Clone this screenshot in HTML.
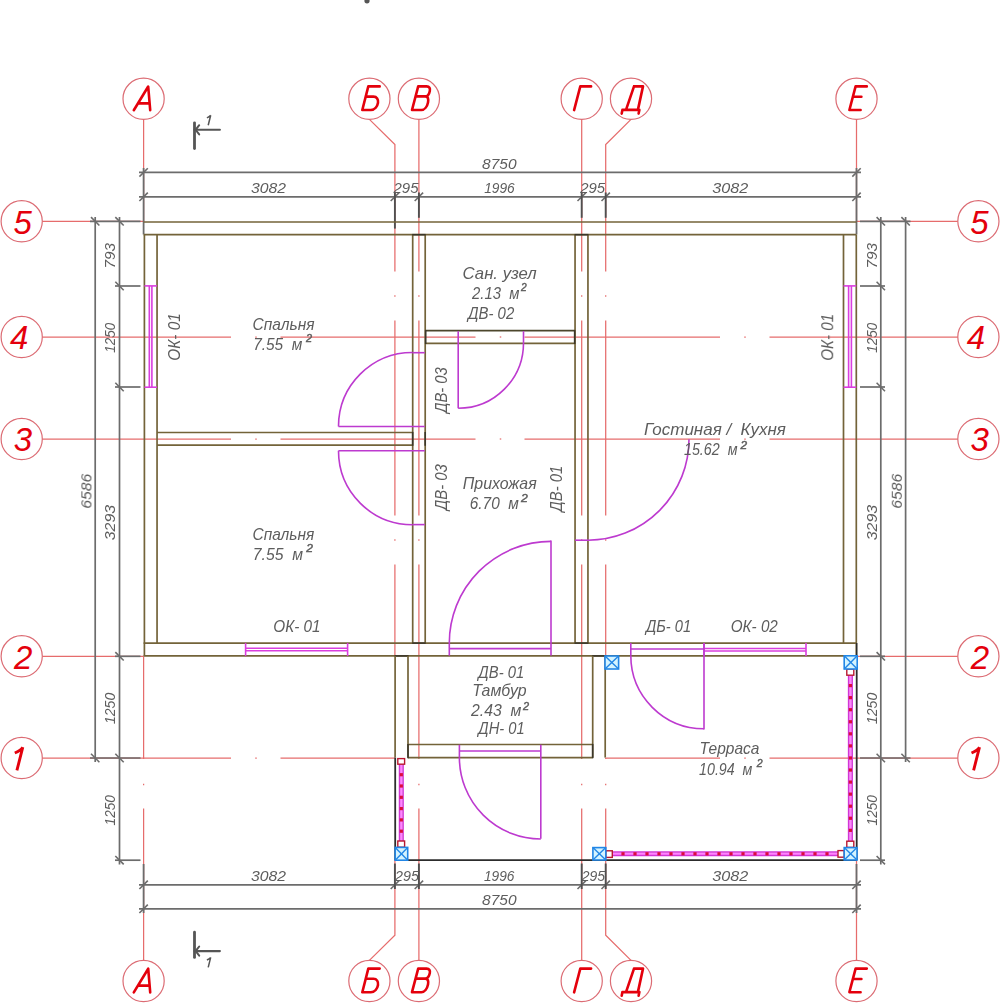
<!DOCTYPE html>
<html><head><meta charset="utf-8"><style>
html,body{margin:0;padding:0;background:#fff;overflow:hidden;}
svg{display:block;font-family:"Liberation Sans",sans-serif;}
</style></head><body>
<svg width="1000" height="1003" viewBox="0 0 1000 1003">
<rect width="1000" height="1003" fill="#fff"/>
<line x1="42" y1="221.3" x2="143.6" y2="221.3" stroke="#e66c6c" stroke-width="1.25" />
<line x1="856.5" y1="221.3" x2="958" y2="221.3" stroke="#e66c6c" stroke-width="1.25" />
<line x1="42" y1="337.0" x2="231" y2="337.0" stroke="#e66c6c" stroke-width="1.25" />
<line x1="280.5" y1="337.0" x2="475.5" y2="337.0" stroke="#e66c6c" stroke-width="1.25" />
<line x1="524.5" y1="337.0" x2="720" y2="337.0" stroke="#e66c6c" stroke-width="1.25" />
<line x1="769.5" y1="337.0" x2="958" y2="337.0" stroke="#e66c6c" stroke-width="1.25" />
<line x1="255.25" y1="337.0" x2="256.75" y2="337.0" stroke="#e66c6c" stroke-width="1.25" />
<line x1="499.75" y1="337.0" x2="501.25" y2="337.0" stroke="#e66c6c" stroke-width="1.25" />
<line x1="744.25" y1="337.0" x2="745.75" y2="337.0" stroke="#e66c6c" stroke-width="1.25" />
<line x1="42" y1="439.0" x2="231" y2="439.0" stroke="#e66c6c" stroke-width="1.25" />
<line x1="280.5" y1="439.0" x2="475.5" y2="439.0" stroke="#e66c6c" stroke-width="1.25" />
<line x1="524.5" y1="439.0" x2="720" y2="439.0" stroke="#e66c6c" stroke-width="1.25" />
<line x1="769.5" y1="439.0" x2="958" y2="439.0" stroke="#e66c6c" stroke-width="1.25" />
<line x1="255.25" y1="439.0" x2="256.75" y2="439.0" stroke="#e66c6c" stroke-width="1.25" />
<line x1="499.75" y1="439.0" x2="501.25" y2="439.0" stroke="#e66c6c" stroke-width="1.25" />
<line x1="744.25" y1="439.0" x2="745.75" y2="439.0" stroke="#e66c6c" stroke-width="1.25" />
<line x1="42" y1="656.3" x2="143.6" y2="656.3" stroke="#e66c6c" stroke-width="1.25" />
<line x1="856.5" y1="656.3" x2="958" y2="656.3" stroke="#e66c6c" stroke-width="1.25" />
<line x1="42" y1="758.0" x2="231" y2="758.0" stroke="#e66c6c" stroke-width="1.25" />
<line x1="280.5" y1="758.0" x2="395" y2="758.0" stroke="#e66c6c" stroke-width="1.25" />
<line x1="605.7" y1="758.0" x2="720" y2="758.0" stroke="#e66c6c" stroke-width="1.25" />
<line x1="769.5" y1="758.0" x2="958" y2="758.0" stroke="#e66c6c" stroke-width="1.25" />
<line x1="255.25" y1="758.0" x2="256.75" y2="758.0" stroke="#e66c6c" stroke-width="1.25" />
<line x1="744.25" y1="758.0" x2="745.75" y2="758.0" stroke="#e66c6c" stroke-width="1.25" />
<line x1="143.6" y1="119.2" x2="143.6" y2="221.3" stroke="#e66c6c" stroke-width="1.25" />
<line x1="143.6" y1="656.3" x2="143.6" y2="759" stroke="#e66c6c" stroke-width="1.25" />
<line x1="143.6" y1="808.5" x2="143.6" y2="960.4" stroke="#e66c6c" stroke-width="1.25" />
<line x1="143.6" y1="783.75" x2="143.6" y2="785.25" stroke="#e66c6c" stroke-width="1.25" />
<line x1="418.9" y1="119.2" x2="418.9" y2="271.5" stroke="#e66c6c" stroke-width="1.25" />
<line x1="418.9" y1="320.5" x2="418.9" y2="515.5" stroke="#e66c6c" stroke-width="1.25" />
<line x1="418.9" y1="564.5" x2="418.9" y2="759" stroke="#e66c6c" stroke-width="1.25" />
<line x1="418.9" y1="808.5" x2="418.9" y2="960.4" stroke="#e66c6c" stroke-width="1.25" />
<line x1="418.9" y1="295.25" x2="418.9" y2="296.75" stroke="#e66c6c" stroke-width="1.25" />
<line x1="418.9" y1="539.25" x2="418.9" y2="540.75" stroke="#e66c6c" stroke-width="1.25" />
<line x1="418.9" y1="783.75" x2="418.9" y2="785.25" stroke="#e66c6c" stroke-width="1.25" />
<line x1="581.7" y1="119.2" x2="581.7" y2="271.5" stroke="#e66c6c" stroke-width="1.25" />
<line x1="581.7" y1="320.5" x2="581.7" y2="515.5" stroke="#e66c6c" stroke-width="1.25" />
<line x1="581.7" y1="564.5" x2="581.7" y2="759" stroke="#e66c6c" stroke-width="1.25" />
<line x1="581.7" y1="808.5" x2="581.7" y2="960.4" stroke="#e66c6c" stroke-width="1.25" />
<line x1="581.7" y1="295.25" x2="581.7" y2="296.75" stroke="#e66c6c" stroke-width="1.25" />
<line x1="581.7" y1="539.25" x2="581.7" y2="540.75" stroke="#e66c6c" stroke-width="1.25" />
<line x1="581.7" y1="783.75" x2="581.7" y2="785.25" stroke="#e66c6c" stroke-width="1.25" />
<line x1="856.5" y1="119.2" x2="856.5" y2="221.3" stroke="#e66c6c" stroke-width="1.25" />
<line x1="856.5" y1="860.3" x2="856.5" y2="960.4" stroke="#e66c6c" stroke-width="1.25" />
<path d="M369.4,119.4 L394.9,144.5 L394.9,271.5" stroke="#e66c6c" stroke-width="1.25" fill="none" />
<line x1="394.9" y1="320.5" x2="394.9" y2="515.5" stroke="#e66c6c" stroke-width="1.25" />
<line x1="394.9" y1="564.5" x2="394.9" y2="655.6" stroke="#e66c6c" stroke-width="1.25" />
<line x1="394.9" y1="295.25" x2="394.9" y2="296.75" stroke="#e66c6c" stroke-width="1.25" />
<line x1="394.9" y1="539.25" x2="394.9" y2="540.75" stroke="#e66c6c" stroke-width="1.25" />
<path d="M394.9,860.3 L394.9,935.2 L369.4,960.4" stroke="#e66c6c" stroke-width="1.25" fill="none" />
<path d="M631.0,119.4 L605.7,144.5 L605.7,271.5" stroke="#e66c6c" stroke-width="1.25" fill="none" />
<line x1="605.7" y1="320.5" x2="605.7" y2="515.5" stroke="#e66c6c" stroke-width="1.25" />
<line x1="605.7" y1="564.5" x2="605.7" y2="655.6" stroke="#e66c6c" stroke-width="1.25" />
<line x1="605.7" y1="758" x2="605.7" y2="759" stroke="#e66c6c" stroke-width="1.25" />
<line x1="605.7" y1="295.25" x2="605.7" y2="296.75" stroke="#e66c6c" stroke-width="1.25" />
<line x1="605.7" y1="539.25" x2="605.7" y2="540.75" stroke="#e66c6c" stroke-width="1.25" />
<line x1="605.7" y1="783.75" x2="605.7" y2="785.25" stroke="#e66c6c" stroke-width="1.25" />
<path d="M605.7,808.5 L605.7,935.2 L631.0,960.4" stroke="#e66c6c" stroke-width="1.25" fill="none" />
<circle cx="143.6" cy="98.8" r="20.6" fill="#fff" stroke="#dc6c74" stroke-width="1.2"/>
<path d="M-9.8,11.4 L4.6,-12.3 L6.6,11.4 M-5.4,4.6 L5.9,4.6" transform="translate(143.6,98.8)" fill="none" stroke="#e4000c" stroke-width="2.6" stroke-linecap="round" stroke-linejoin="round"/>
<circle cx="143.6" cy="981.0" r="20.6" fill="#fff" stroke="#dc6c74" stroke-width="1.2"/>
<path d="M-9.8,11.4 L4.6,-12.3 L6.6,11.4 M-5.4,4.6 L5.9,4.6" transform="translate(143.6,981.0)" fill="none" stroke="#e4000c" stroke-width="2.6" stroke-linecap="round" stroke-linejoin="round"/>
<circle cx="369.4" cy="98.8" r="20.6" fill="#fff" stroke="#dc6c74" stroke-width="1.2"/>
<path d="M10.3,-12.4 L-1.1,-12.4 L-7.1,11.2 L1.5,11.2 C5.5,11.2 8.0,7.6 8.6,4.0 C9.1,0.6 7.4,-2.2 4.1,-2.2 L-3.5,-2.2" transform="translate(369.4,98.8)" fill="none" stroke="#e4000c" stroke-width="2.6" stroke-linecap="round" stroke-linejoin="round"/>
<circle cx="369.4" cy="981.0" r="20.6" fill="#fff" stroke="#dc6c74" stroke-width="1.2"/>
<path d="M10.3,-12.4 L-1.1,-12.4 L-7.1,11.2 L1.5,11.2 C5.5,11.2 8.0,7.6 8.6,4.0 C9.1,0.6 7.4,-2.2 4.1,-2.2 L-3.5,-2.2" transform="translate(369.4,981.0)" fill="none" stroke="#e4000c" stroke-width="2.6" stroke-linecap="round" stroke-linejoin="round"/>
<circle cx="418.9" cy="98.8" r="20.6" fill="#fff" stroke="#dc6c74" stroke-width="1.2"/>
<path d="M2.5,11.2 L-6.9,11.2 L-0.7,-12.4 L7.7,-12.4 C10.6,-12.4 11.4,-10.2 10.9,-7.9 C10.3,-4.8 8.6,-2.4 6.3,-2.4 L-3.2,-2.4 M6.3,-2.4 C9.3,-2.4 9.7,0.6 9.1,3.6 C8.3,7.8 5.6,11.2 2.5,11.2" transform="translate(418.9,98.8)" fill="none" stroke="#e4000c" stroke-width="2.6" stroke-linecap="round" stroke-linejoin="round"/>
<circle cx="418.9" cy="981.0" r="20.6" fill="#fff" stroke="#dc6c74" stroke-width="1.2"/>
<path d="M2.5,11.2 L-6.9,11.2 L-0.7,-12.4 L7.7,-12.4 C10.6,-12.4 11.4,-10.2 10.9,-7.9 C10.3,-4.8 8.6,-2.4 6.3,-2.4 L-3.2,-2.4 M6.3,-2.4 C9.3,-2.4 9.7,0.6 9.1,3.6 C8.3,7.8 5.6,11.2 2.5,11.2" transform="translate(418.9,981.0)" fill="none" stroke="#e4000c" stroke-width="2.6" stroke-linecap="round" stroke-linejoin="round"/>
<circle cx="581.7" cy="98.8" r="20.6" fill="#fff" stroke="#dc6c74" stroke-width="1.2"/>
<path d="M-7.6,11.3 L-1.4,-12.4 L9.4,-12.4" transform="translate(581.7,98.8)" fill="none" stroke="#e4000c" stroke-width="2.6" stroke-linecap="round" stroke-linejoin="round"/>
<circle cx="581.7" cy="981.0" r="20.6" fill="#fff" stroke="#dc6c74" stroke-width="1.2"/>
<path d="M-7.6,11.3 L-1.4,-12.4 L9.4,-12.4" transform="translate(581.7,981.0)" fill="none" stroke="#e4000c" stroke-width="2.6" stroke-linecap="round" stroke-linejoin="round"/>
<circle cx="631.0" cy="98.8" r="20.6" fill="#fff" stroke="#dc6c74" stroke-width="1.2"/>
<path d="M3.0,-12.4 L12.0,-12.4 L6.9,11.1 M3.0,-12.4 L-5.0,11.1 M-8.6,11.1 L8.4,11.1 M-8.6,11.1 L-9.3,14.8 M8.4,11.1 L7.6,14.8" transform="translate(631.0,98.8)" fill="none" stroke="#e4000c" stroke-width="2.6" stroke-linecap="round" stroke-linejoin="round"/>
<circle cx="631.0" cy="981.0" r="20.6" fill="#fff" stroke="#dc6c74" stroke-width="1.2"/>
<path d="M3.0,-12.4 L12.0,-12.4 L6.9,11.1 M3.0,-12.4 L-5.0,11.1 M-8.6,11.1 L8.4,11.1 M-8.6,11.1 L-9.3,14.8 M8.4,11.1 L7.6,14.8" transform="translate(631.0,981.0)" fill="none" stroke="#e4000c" stroke-width="2.6" stroke-linecap="round" stroke-linejoin="round"/>
<circle cx="856.5" cy="98.8" r="20.6" fill="#fff" stroke="#dc6c74" stroke-width="1.2"/>
<path d="M10.3,-12.4 L-0.9,-12.4 L-7.1,11.2 L4.1,11.2 M-3.5,-2.0 L4.9,-2.0" transform="translate(856.5,98.8)" fill="none" stroke="#e4000c" stroke-width="2.6" stroke-linecap="round" stroke-linejoin="round"/>
<circle cx="856.5" cy="981.0" r="20.6" fill="#fff" stroke="#dc6c74" stroke-width="1.2"/>
<path d="M10.3,-12.4 L-0.9,-12.4 L-7.1,11.2 L4.1,11.2 M-3.5,-2.0 L4.9,-2.0" transform="translate(856.5,981.0)" fill="none" stroke="#e4000c" stroke-width="2.6" stroke-linecap="round" stroke-linejoin="round"/>
<circle cx="21.7" cy="221.3" r="20.6" fill="#fff" stroke="#dc6c74" stroke-width="1.2"/>
<text x="22.7" y="233.60000000000002" text-anchor="middle" font-size="33" font-style="italic" fill="#e4000c">5</text>
<circle cx="978.4" cy="221.3" r="20.6" fill="#fff" stroke="#dc6c74" stroke-width="1.2"/>
<text x="979.4" y="233.60000000000002" text-anchor="middle" font-size="33" font-style="italic" fill="#e4000c">5</text>
<circle cx="21.7" cy="337.0" r="20.6" fill="#fff" stroke="#dc6c74" stroke-width="1.2"/>
<text x="19.2" y="349.3" text-anchor="middle" font-size="33" font-style="italic" fill="#e4000c">4</text>
<circle cx="978.4" cy="337.0" r="20.6" fill="#fff" stroke="#dc6c74" stroke-width="1.2"/>
<text x="975.9" y="349.3" text-anchor="middle" font-size="33" font-style="italic" fill="#e4000c">4</text>
<circle cx="21.7" cy="439.0" r="20.6" fill="#fff" stroke="#dc6c74" stroke-width="1.2"/>
<text x="23.0" y="451.3" text-anchor="middle" font-size="33" font-style="italic" fill="#e4000c">3</text>
<circle cx="978.4" cy="439.0" r="20.6" fill="#fff" stroke="#dc6c74" stroke-width="1.2"/>
<text x="979.6999999999999" y="451.3" text-anchor="middle" font-size="33" font-style="italic" fill="#e4000c">3</text>
<circle cx="21.7" cy="656.3" r="20.6" fill="#fff" stroke="#dc6c74" stroke-width="1.2"/>
<text x="23.3" y="668.5999999999999" text-anchor="middle" font-size="33" font-style="italic" fill="#e4000c">2</text>
<circle cx="978.4" cy="656.3" r="20.6" fill="#fff" stroke="#dc6c74" stroke-width="1.2"/>
<text x="980.0" y="668.5999999999999" text-anchor="middle" font-size="33" font-style="italic" fill="#e4000c">2</text>
<circle cx="21.7" cy="758.0" r="20.6" fill="#fff" stroke="#dc6c74" stroke-width="1.2"/>
<path d="M-4.8,12.4 L1.1,-10.8 M-6.9,-5.0 C-3.6,-6.4 -0.6,-8.2 1.1,-10.8" transform="translate(21.7,758.0)" fill="none" stroke="#e4000c" stroke-width="2.9" stroke-linecap="butt" stroke-linejoin="round"/>
<circle cx="978.4" cy="758.0" r="20.6" fill="#fff" stroke="#dc6c74" stroke-width="1.2"/>
<path d="M-4.8,12.4 L1.1,-10.8 M-6.9,-5.0 C-3.6,-6.4 -0.6,-8.2 1.1,-10.8" transform="translate(978.4,758.0)" fill="none" stroke="#e4000c" stroke-width="2.9" stroke-linecap="butt" stroke-linejoin="round"/>
<line x1="139" y1="172.4" x2="861" y2="172.4" stroke="#6c6c6c" stroke-width="1.7" />
<line x1="139" y1="196.8" x2="861" y2="196.8" stroke="#6c6c6c" stroke-width="1.7" />
<line x1="139.4" y1="176.6" x2="147.79999999999998" y2="168.20000000000002" stroke="#6c6c6c" stroke-width="1.6" />
<line x1="852.3" y1="176.6" x2="860.7" y2="168.20000000000002" stroke="#6c6c6c" stroke-width="1.6" />
<line x1="139.4" y1="201.0" x2="147.79999999999998" y2="192.60000000000002" stroke="#6c6c6c" stroke-width="1.6" />
<line x1="390.7" y1="201.0" x2="399.09999999999997" y2="192.60000000000002" stroke="#6c6c6c" stroke-width="1.6" />
<line x1="414.7" y1="201.0" x2="423.09999999999997" y2="192.60000000000002" stroke="#6c6c6c" stroke-width="1.6" />
<line x1="577.5" y1="201.0" x2="585.9000000000001" y2="192.60000000000002" stroke="#6c6c6c" stroke-width="1.6" />
<line x1="601.5" y1="201.0" x2="609.9000000000001" y2="192.60000000000002" stroke="#6c6c6c" stroke-width="1.6" />
<line x1="852.3" y1="201.0" x2="860.7" y2="192.60000000000002" stroke="#6c6c6c" stroke-width="1.6" />
<line x1="143.6" y1="168" x2="143.6" y2="234.5" stroke="#6c6c6c" stroke-width="1.8" />
<line x1="856.5" y1="168" x2="856.5" y2="234.5" stroke="#6c6c6c" stroke-width="1.8" />
<line x1="394.9" y1="192.5" x2="394.9" y2="228.6" stroke="#505050" stroke-width="1.9" />
<line x1="418.9" y1="192.5" x2="418.9" y2="217.8" stroke="#505050" stroke-width="1.9" />
<line x1="581.7" y1="192.5" x2="581.7" y2="217.8" stroke="#505050" stroke-width="1.9" />
<line x1="605.7" y1="192.5" x2="605.7" y2="217.8" stroke="#505050" stroke-width="1.9" />
<line x1="139" y1="884.8" x2="861" y2="884.8" stroke="#6c6c6c" stroke-width="1.7" />
<line x1="139" y1="908.8" x2="861" y2="908.8" stroke="#6c6c6c" stroke-width="1.7" />
<line x1="139.4" y1="913.0" x2="147.79999999999998" y2="904.5999999999999" stroke="#6c6c6c" stroke-width="1.6" />
<line x1="852.3" y1="913.0" x2="860.7" y2="904.5999999999999" stroke="#6c6c6c" stroke-width="1.6" />
<line x1="139.4" y1="889.0" x2="147.79999999999998" y2="880.5999999999999" stroke="#6c6c6c" stroke-width="1.6" />
<line x1="390.7" y1="889.0" x2="399.09999999999997" y2="880.5999999999999" stroke="#6c6c6c" stroke-width="1.6" />
<line x1="414.7" y1="889.0" x2="423.09999999999997" y2="880.5999999999999" stroke="#6c6c6c" stroke-width="1.6" />
<line x1="577.5" y1="889.0" x2="585.9000000000001" y2="880.5999999999999" stroke="#6c6c6c" stroke-width="1.6" />
<line x1="601.5" y1="889.0" x2="609.9000000000001" y2="880.5999999999999" stroke="#6c6c6c" stroke-width="1.6" />
<line x1="852.3" y1="889.0" x2="860.7" y2="880.5999999999999" stroke="#6c6c6c" stroke-width="1.6" />
<line x1="143.6" y1="864" x2="143.6" y2="913" stroke="#6c6c6c" stroke-width="1.8" />
<line x1="856.5" y1="864" x2="856.5" y2="913" stroke="#6c6c6c" stroke-width="1.8" />
<line x1="394.9" y1="863.5" x2="394.9" y2="889" stroke="#505050" stroke-width="1.9" />
<line x1="418.9" y1="863.5" x2="418.9" y2="889" stroke="#505050" stroke-width="1.9" />
<line x1="581.7" y1="863.5" x2="581.7" y2="889" stroke="#505050" stroke-width="1.9" />
<line x1="605.7" y1="863.5" x2="605.7" y2="889" stroke="#505050" stroke-width="1.9" />
<line x1="95.2" y1="217" x2="95.2" y2="762" stroke="#6c6c6c" stroke-width="1.7" />
<line x1="119.5" y1="217" x2="119.5" y2="864.5" stroke="#6c6c6c" stroke-width="1.7" />
<line x1="91.0" y1="217.10000000000002" x2="99.4" y2="225.5" stroke="#6c6c6c" stroke-width="1.6" />
<line x1="91.0" y1="753.8" x2="99.4" y2="762.2" stroke="#6c6c6c" stroke-width="1.6" />
<line x1="115.3" y1="217.10000000000002" x2="123.7" y2="225.5" stroke="#6c6c6c" stroke-width="1.6" />
<line x1="115.3" y1="281.8" x2="123.7" y2="290.2" stroke="#6c6c6c" stroke-width="1.6" />
<line x1="115.3" y1="382.8" x2="123.7" y2="391.2" stroke="#6c6c6c" stroke-width="1.6" />
<line x1="115.3" y1="652.0999999999999" x2="123.7" y2="660.5" stroke="#6c6c6c" stroke-width="1.6" />
<line x1="115.3" y1="753.8" x2="123.7" y2="762.2" stroke="#6c6c6c" stroke-width="1.6" />
<line x1="115.3" y1="856.0" x2="123.7" y2="864.4000000000001" stroke="#6c6c6c" stroke-width="1.6" />
<line x1="90" y1="221.3" x2="140.5" y2="221.3" stroke="#6c6c6c" stroke-width="1.7" />
<line x1="90" y1="758.0" x2="140.5" y2="758.0" stroke="#6c6c6c" stroke-width="1.7" />
<line x1="115" y1="286" x2="140.5" y2="286" stroke="#6c6c6c" stroke-width="1.7" />
<line x1="115" y1="387" x2="140.5" y2="387" stroke="#6c6c6c" stroke-width="1.7" />
<line x1="115" y1="656.3" x2="140.5" y2="656.3" stroke="#6c6c6c" stroke-width="1.7" />
<line x1="115" y1="860.2" x2="140.5" y2="860.2" stroke="#6c6c6c" stroke-width="1.7" />
<line x1="905.6" y1="217" x2="905.6" y2="762" stroke="#6c6c6c" stroke-width="1.7" />
<line x1="880.8" y1="217" x2="880.8" y2="864.5" stroke="#6c6c6c" stroke-width="1.7" />
<line x1="901.4" y1="217.10000000000002" x2="909.8000000000001" y2="225.5" stroke="#6c6c6c" stroke-width="1.6" />
<line x1="901.4" y1="753.8" x2="909.8000000000001" y2="762.2" stroke="#6c6c6c" stroke-width="1.6" />
<line x1="876.5999999999999" y1="217.10000000000002" x2="885.0" y2="225.5" stroke="#6c6c6c" stroke-width="1.6" />
<line x1="876.5999999999999" y1="281.8" x2="885.0" y2="290.2" stroke="#6c6c6c" stroke-width="1.6" />
<line x1="876.5999999999999" y1="382.8" x2="885.0" y2="391.2" stroke="#6c6c6c" stroke-width="1.6" />
<line x1="876.5999999999999" y1="652.0999999999999" x2="885.0" y2="660.5" stroke="#6c6c6c" stroke-width="1.6" />
<line x1="876.5999999999999" y1="753.8" x2="885.0" y2="762.2" stroke="#6c6c6c" stroke-width="1.6" />
<line x1="876.5999999999999" y1="856.0" x2="885.0" y2="864.4000000000001" stroke="#6c6c6c" stroke-width="1.6" />
<line x1="860" y1="221.3" x2="910.5" y2="221.3" stroke="#6c6c6c" stroke-width="1.7" />
<line x1="860" y1="758.0" x2="910.5" y2="758.0" stroke="#6c6c6c" stroke-width="1.7" />
<line x1="860" y1="286" x2="885" y2="286" stroke="#6c6c6c" stroke-width="1.7" />
<line x1="860" y1="387" x2="885" y2="387" stroke="#6c6c6c" stroke-width="1.7" />
<line x1="860" y1="656.3" x2="885" y2="656.3" stroke="#6c6c6c" stroke-width="1.7" />
<line x1="860" y1="860.2" x2="885" y2="860.2" stroke="#6c6c6c" stroke-width="1.7" />
<line x1="143.6" y1="222.0" x2="856.5" y2="222.0" stroke="#736339" stroke-width="1.7" />
<line x1="143.6" y1="234.7" x2="856.5" y2="234.7" stroke="#736339" stroke-width="1.7" />
<line x1="144.4" y1="234.7" x2="144.4" y2="655.9" stroke="#736339" stroke-width="1.7" />
<line x1="157.05" y1="234.7" x2="157.05" y2="643.1" stroke="#736339" stroke-width="1.7" />
<line x1="856.3" y1="234.7" x2="856.3" y2="655.9" stroke="#736339" stroke-width="1.7" />
<line x1="843.5" y1="234.7" x2="843.5" y2="643.1" stroke="#736339" stroke-width="1.7" />
<line x1="143.6" y1="643.1" x2="856.5" y2="643.1" stroke="#736339" stroke-width="1.7" />
<line x1="143.6" y1="655.9" x2="856.5" y2="655.9" stroke="#736339" stroke-width="1.7" />
<line x1="412.7" y1="234.7" x2="412.7" y2="643.1" stroke="#736339" stroke-width="1.7" />
<line x1="425.2" y1="234.7" x2="425.2" y2="643.1" stroke="#736339" stroke-width="1.7" />
<line x1="575.05" y1="234.7" x2="575.05" y2="643.1" stroke="#736339" stroke-width="1.7" />
<line x1="587.95" y1="234.7" x2="587.95" y2="643.1" stroke="#736339" stroke-width="1.7" />
<line x1="412.2" y1="234.7" x2="425.7" y2="234.7" stroke="#3b372a" stroke-width="1.6" />
<line x1="412.2" y1="643.1" x2="425.7" y2="643.1" stroke="#3b372a" stroke-width="1.6" />
<line x1="574.55" y1="234.7" x2="588.45" y2="234.7" stroke="#3b372a" stroke-width="1.6" />
<line x1="574.55" y1="643.1" x2="588.45" y2="643.1" stroke="#3b372a" stroke-width="1.6" />
<line x1="394.6" y1="655.9" x2="408.5" y2="655.9" stroke="#3b372a" stroke-width="1.6" />
<line x1="592.2" y1="655.9" x2="605.7" y2="655.9" stroke="#3b372a" stroke-width="1.6" />
<line x1="157.05" y1="432.5" x2="412.7" y2="432.5" stroke="#736339" stroke-width="1.7" />
<line x1="157.05" y1="445.2" x2="412.7" y2="445.2" stroke="#736339" stroke-width="1.7" />
<line x1="412.7" y1="431.9" x2="412.7" y2="445.8" stroke="#3b372a" stroke-width="1.6" />
<line x1="425.2" y1="431.9" x2="425.2" y2="445.8" stroke="#3b372a" stroke-width="1.6" />
<line x1="425.2" y1="330.7" x2="575.05" y2="330.7" stroke="#4d472c" stroke-width="1.7" />
<line x1="425.2" y1="343.45" x2="575.05" y2="343.45" stroke="#736339" stroke-width="1.7" />
<line x1="425.7" y1="330.09999999999997" x2="425.7" y2="344.05" stroke="#3b372a" stroke-width="1.6" />
<line x1="574.65" y1="330.09999999999997" x2="574.65" y2="344.05" stroke="#3b372a" stroke-width="1.6" />
<line x1="395.1" y1="655.9" x2="395.1" y2="757.6" stroke="#736339" stroke-width="1.7" />
<line x1="408.0" y1="655.9" x2="408.0" y2="757.6" stroke="#736339" stroke-width="1.7" />
<line x1="592.7" y1="655.9" x2="592.7" y2="757.6" stroke="#736339" stroke-width="1.7" />
<line x1="605.2" y1="655.9" x2="605.2" y2="757.6" stroke="#736339" stroke-width="1.7" />
<line x1="408.0" y1="744.5" x2="592.7" y2="744.5" stroke="#736339" stroke-width="1.7" />
<line x1="408.0" y1="757.6" x2="592.7" y2="757.6" stroke="#736339" stroke-width="1.7" />
<line x1="408.0" y1="743.9" x2="408.0" y2="758.2" stroke="#3b372a" stroke-width="1.6" />
<line x1="592.7" y1="743.9" x2="592.7" y2="758.2" stroke="#3b372a" stroke-width="1.6" />
<line x1="144.4" y1="285.9" x2="157.05" y2="285.9" stroke="#da3ede" stroke-width="1.6" />
<line x1="144.4" y1="387.2" x2="157.05" y2="387.2" stroke="#da3ede" stroke-width="1.6" />
<line x1="149.3" y1="285.9" x2="149.3" y2="387.2" stroke="#da3ede" stroke-width="1.6" />
<line x1="151.9" y1="285.9" x2="151.9" y2="387.2" stroke="#da3ede" stroke-width="1.6" />
<line x1="843.5" y1="285.9" x2="856.3" y2="285.9" stroke="#da3ede" stroke-width="1.6" />
<line x1="843.5" y1="387.2" x2="856.3" y2="387.2" stroke="#da3ede" stroke-width="1.6" />
<line x1="848.6" y1="285.9" x2="848.6" y2="387.2" stroke="#da3ede" stroke-width="1.6" />
<line x1="851.4" y1="285.9" x2="851.4" y2="387.2" stroke="#da3ede" stroke-width="1.6" />
<line x1="245.6" y1="643.1" x2="245.6" y2="655.9" stroke="#da3ede" stroke-width="1.6" />
<line x1="347.6" y1="643.1" x2="347.6" y2="655.9" stroke="#da3ede" stroke-width="1.6" />
<line x1="245.6" y1="648.3" x2="347.6" y2="648.3" stroke="#da3ede" stroke-width="1.6" />
<line x1="245.6" y1="650.8" x2="347.6" y2="650.8" stroke="#da3ede" stroke-width="1.6" />
<line x1="704" y1="643.1" x2="704" y2="655.9" stroke="#da3ede" stroke-width="1.6" />
<line x1="806" y1="643.1" x2="806" y2="655.9" stroke="#da3ede" stroke-width="1.6" />
<line x1="704" y1="648.5" x2="806" y2="648.5" stroke="#da3ede" stroke-width="1.6" />
<line x1="704" y1="651.0" x2="806" y2="651.0" stroke="#da3ede" stroke-width="1.6" />
<line x1="458.2" y1="331.2" x2="458.2" y2="408.2" stroke="#bd3acf" stroke-width="1.6" />
<line x1="523.5" y1="331.2" x2="523.5" y2="342.9" stroke="#bd3acf" stroke-width="1.6" />
<path d="M523.50,342.90 A65.3,65.3 0 0 1 458.20,408.20" stroke="#bd3acf" stroke-width="1.6" fill="none" />
<line x1="338.5" y1="426.5" x2="424.8" y2="426.5" stroke="#bd3acf" stroke-width="1.6" />
<line x1="412.5" y1="352.7" x2="424.8" y2="352.7" stroke="#bd3acf" stroke-width="1.6" />
<path d="M338.50,426.50 A74,74 0 0 1 412.50,352.50" stroke="#bd3acf" stroke-width="1.6" fill="none" />
<line x1="338.5" y1="450.8" x2="424.8" y2="450.8" stroke="#bd3acf" stroke-width="1.6" />
<line x1="412.5" y1="524.6" x2="424.8" y2="524.6" stroke="#bd3acf" stroke-width="1.6" />
<path d="M338.50,450.80 A74,74 0 0 0 412.50,524.80" stroke="#bd3acf" stroke-width="1.6" fill="none" />
<line x1="575.1" y1="540.2" x2="588" y2="540.2" stroke="#bd3acf" stroke-width="1.6" />
<path d="M689.00,439.20 A101,101 0 0 1 588.00,540.20" stroke="#bd3acf" stroke-width="1.6" fill="none" />
<line x1="449.3" y1="643.1" x2="449.3" y2="655.6" stroke="#bd3acf" stroke-width="1.6" />
<line x1="551" y1="540.5" x2="551" y2="655.6" stroke="#bd3acf" stroke-width="1.6" />
<line x1="449.3" y1="648.6" x2="551" y2="648.6" stroke="#bd3acf" stroke-width="1.6" />
<path d="M449.30,643.10 A101.7,101.7 0 0 1 551.00,541.40" stroke="#bd3acf" stroke-width="1.6" fill="none" />
<line x1="459.4" y1="744.8" x2="459.4" y2="757.6" stroke="#bd3acf" stroke-width="1.6" />
<line x1="540.8" y1="744.8" x2="540.8" y2="838.8" stroke="#bd3acf" stroke-width="1.6" />
<line x1="459.4" y1="751" x2="540.8" y2="751" stroke="#bd3acf" stroke-width="1.6" />
<path d="M459.40,757.60 A81.4,81.4 0 0 0 540.80,839.00" stroke="#bd3acf" stroke-width="1.6" fill="none" />
<line x1="630.8" y1="643.1" x2="630.8" y2="655.6" stroke="#bd3acf" stroke-width="1.6" />
<line x1="704" y1="643.1" x2="704" y2="729.6" stroke="#bd3acf" stroke-width="1.6" />
<line x1="630.8" y1="649" x2="704" y2="649" stroke="#bd3acf" stroke-width="1.6" />
<path d="M630.80,655.60 A73.2,73.2 0 0 0 704.00,728.80" stroke="#bd3acf" stroke-width="1.6" fill="none" />
<line x1="395.2" y1="757.6" x2="395.2" y2="860.3" stroke="#2c2c2c" stroke-width="1.8" />
<line x1="395.2" y1="860.2" x2="856.7" y2="860.2" stroke="#2c2c2c" stroke-width="1.7" />
<line x1="856.7" y1="668.8" x2="856.7" y2="860.3" stroke="#2c2c2c" stroke-width="1.8" />
<line x1="401.3" y1="764.2" x2="401.3" y2="841" stroke="#ff84ff" stroke-width="2.4" />
<line x1="399.5" y1="764.2" x2="399.5" y2="841" stroke="#d236d6" stroke-width="1.5" />
<line x1="403.1" y1="764.2" x2="403.1" y2="841" stroke="#d236d6" stroke-width="1.5" />
<rect x="399.70" y="773.10" width="3.2" height="3.2" fill="#dc0c3c"/>
<rect x="399.70" y="784.40" width="3.2" height="3.2" fill="#dc0c3c"/>
<rect x="399.70" y="795.70" width="3.2" height="3.2" fill="#dc0c3c"/>
<rect x="399.70" y="807.00" width="3.2" height="3.2" fill="#dc0c3c"/>
<rect x="399.70" y="818.30" width="3.2" height="3.2" fill="#dc0c3c"/>
<rect x="399.70" y="829.60" width="3.2" height="3.2" fill="#dc0c3c"/>
<line x1="850.4" y1="675.2" x2="850.4" y2="841.2" stroke="#ff84ff" stroke-width="2.4" />
<line x1="848.6" y1="675.2" x2="848.6" y2="841.2" stroke="#d236d6" stroke-width="1.5" />
<line x1="852.1999999999999" y1="675.2" x2="852.1999999999999" y2="841.2" stroke="#d236d6" stroke-width="1.5" />
<rect x="848.80" y="684.00" width="3.2" height="3.2" fill="#dc0c3c"/>
<rect x="848.80" y="696.06" width="3.2" height="3.2" fill="#dc0c3c"/>
<rect x="848.80" y="708.12" width="3.2" height="3.2" fill="#dc0c3c"/>
<rect x="848.80" y="720.18" width="3.2" height="3.2" fill="#dc0c3c"/>
<rect x="848.80" y="732.24" width="3.2" height="3.2" fill="#dc0c3c"/>
<rect x="848.80" y="744.30" width="3.2" height="3.2" fill="#dc0c3c"/>
<rect x="848.80" y="756.36" width="3.2" height="3.2" fill="#dc0c3c"/>
<rect x="848.80" y="768.42" width="3.2" height="3.2" fill="#dc0c3c"/>
<rect x="848.80" y="780.48" width="3.2" height="3.2" fill="#dc0c3c"/>
<rect x="848.80" y="792.54" width="3.2" height="3.2" fill="#dc0c3c"/>
<rect x="848.80" y="804.60" width="3.2" height="3.2" fill="#dc0c3c"/>
<rect x="848.80" y="816.66" width="3.2" height="3.2" fill="#dc0c3c"/>
<rect x="848.80" y="828.72" width="3.2" height="3.2" fill="#dc0c3c"/>
<line x1="612.3" y1="853.8" x2="838" y2="853.8" stroke="#ff84ff" stroke-width="2.4" />
<line x1="612.3" y1="852.0" x2="838" y2="852.0" stroke="#d236d6" stroke-width="1.5" />
<line x1="612.3" y1="855.5999999999999" x2="838" y2="855.5999999999999" stroke="#d236d6" stroke-width="1.5" />
<rect x="621.40" y="852.20" width="3.2" height="3.2" fill="#dc0c3c"/>
<rect x="633.40" y="852.20" width="3.2" height="3.2" fill="#dc0c3c"/>
<rect x="645.40" y="852.20" width="3.2" height="3.2" fill="#dc0c3c"/>
<rect x="657.40" y="852.20" width="3.2" height="3.2" fill="#dc0c3c"/>
<rect x="669.40" y="852.20" width="3.2" height="3.2" fill="#dc0c3c"/>
<rect x="681.40" y="852.20" width="3.2" height="3.2" fill="#dc0c3c"/>
<rect x="693.40" y="852.20" width="3.2" height="3.2" fill="#dc0c3c"/>
<rect x="705.40" y="852.20" width="3.2" height="3.2" fill="#dc0c3c"/>
<rect x="717.40" y="852.20" width="3.2" height="3.2" fill="#dc0c3c"/>
<rect x="729.40" y="852.20" width="3.2" height="3.2" fill="#dc0c3c"/>
<rect x="741.40" y="852.20" width="3.2" height="3.2" fill="#dc0c3c"/>
<rect x="753.40" y="852.20" width="3.2" height="3.2" fill="#dc0c3c"/>
<rect x="765.40" y="852.20" width="3.2" height="3.2" fill="#dc0c3c"/>
<rect x="777.40" y="852.20" width="3.2" height="3.2" fill="#dc0c3c"/>
<rect x="789.40" y="852.20" width="3.2" height="3.2" fill="#dc0c3c"/>
<rect x="801.40" y="852.20" width="3.2" height="3.2" fill="#dc0c3c"/>
<rect x="813.40" y="852.20" width="3.2" height="3.2" fill="#dc0c3c"/>
<rect x="825.40" y="852.20" width="3.2" height="3.2" fill="#dc0c3c"/>
<rect x="397.8" y="758.6" width="6.800000000000011" height="5.600000000000023" fill="#fff" stroke="#b81830" stroke-width="1.4"/>
<rect x="397.8" y="841" width="6.800000000000011" height="6.2000000000000455" fill="#fff" stroke="#b81830" stroke-width="1.4"/>
<rect x="846.8" y="669.2" width="7.0" height="6.0" fill="#fff" stroke="#b81830" stroke-width="1.4"/>
<rect x="846.8" y="841.2" width="7.0" height="6.199999999999932" fill="#fff" stroke="#b81830" stroke-width="1.4"/>
<rect x="605.9" y="850.8" width="6.399999999999977" height="6.600000000000023" fill="#fff" stroke="#b81830" stroke-width="1.4"/>
<rect x="838" y="850.6" width="6.2000000000000455" height="6.600000000000023" fill="#fff" stroke="#b81830" stroke-width="1.4"/>
<line x1="856.7" y1="643" x2="856.7" y2="669" stroke="#2c2c2c" stroke-width="1.5" />
<rect x="605.0" y="656.0" width="13.600000000000023" height="13.0" fill="#d4f4ff" stroke="#2186e6" stroke-width="1.6"/>
<line x1="605.0" y1="656.0" x2="618.6" y2="669.0" stroke="#2186e6" stroke-width="1.4" />
<line x1="605.0" y1="669.0" x2="618.6" y2="656.0" stroke="#2186e6" stroke-width="1.4" />
<rect x="844.2" y="655.8" width="13.0" height="13.200000000000045" fill="#d4f4ff" stroke="#2186e6" stroke-width="1.6"/>
<line x1="844.2" y1="655.8" x2="857.2" y2="669.0" stroke="#2186e6" stroke-width="1.4" />
<line x1="844.2" y1="669.0" x2="857.2" y2="655.8" stroke="#2186e6" stroke-width="1.4" />
<rect x="395.2" y="847.4" width="12.5" height="12.800000000000068" fill="#d4f4ff" stroke="#2186e6" stroke-width="1.6"/>
<line x1="395.2" y1="847.4" x2="407.7" y2="860.2" stroke="#2186e6" stroke-width="1.4" />
<line x1="395.2" y1="860.2" x2="407.7" y2="847.4" stroke="#2186e6" stroke-width="1.4" />
<rect x="592.9" y="847.6" width="12.899999999999977" height="12.399999999999977" fill="#d4f4ff" stroke="#2186e6" stroke-width="1.6"/>
<line x1="592.9" y1="847.6" x2="605.8" y2="860.0" stroke="#2186e6" stroke-width="1.4" />
<line x1="592.9" y1="860.0" x2="605.8" y2="847.6" stroke="#2186e6" stroke-width="1.4" />
<rect x="844.2" y="847.6" width="12.799999999999955" height="12.399999999999977" fill="#d4f4ff" stroke="#2186e6" stroke-width="1.6"/>
<line x1="844.2" y1="847.6" x2="857.0" y2="860.0" stroke="#2186e6" stroke-width="1.4" />
<line x1="844.2" y1="860.0" x2="857.0" y2="847.6" stroke="#2186e6" stroke-width="1.4" />
<line x1="194.5" y1="122.8" x2="194.5" y2="148.5" stroke="#555" stroke-width="2.8" stroke-linecap="round"/>
<line x1="194.5" y1="129.8" x2="219.9" y2="129.8" stroke="#555" stroke-width="2.1" stroke-linecap="round"/>
<path d="M199.2,125.20000000000002 L195.6,129.8 L199.2,134.4" stroke="#555" stroke-width="2.0" fill="none" stroke-linecap="round"/>
<path d="M208.2,125.3 L210.7,115.3 M206.9,117.9 C208.3,117.3 209.7,116.5 210.7,115.3" fill="none" stroke="#555" stroke-width="1.5"/>
<line x1="194.5" y1="932.2" x2="194.5" y2="957.4" stroke="#555" stroke-width="2.8" stroke-linecap="round"/>
<line x1="194.5" y1="951.1" x2="219.9" y2="951.1" stroke="#555" stroke-width="2.1" stroke-linecap="round"/>
<path d="M199.2,946.5 L195.6,951.1 L199.2,955.7" stroke="#555" stroke-width="2.0" fill="none" stroke-linecap="round"/>
<path d="M208.2,967.4 L210.7,957.4 M206.9,960.0 C208.3,959.4 209.7,958.6 210.7,957.4" fill="none" stroke="#555" stroke-width="1.5"/>
<circle cx="367" cy="0.8" r="2.6" fill="#555"/>
<g opacity="0.999">
<text x="482.09" y="169.1" font-size="15.2" font-style="italic" fill="#5d5d5d" textLength="34.46" lengthAdjust="spacingAndGlyphs">8750</text>
<text x="250.94" y="193.1" font-size="15.2" font-style="italic" fill="#5d5d5d" textLength="34.97" lengthAdjust="spacingAndGlyphs">3082</text>
<text x="393.50" y="193.0" font-size="15.2" font-style="italic" fill="#5d5d5d" textLength="24.99" lengthAdjust="spacingAndGlyphs">295</text>
<text x="484.15" y="193.0" font-size="15.2" font-style="italic" fill="#5d5d5d" textLength="30.49" lengthAdjust="spacingAndGlyphs">1996</text>
<text x="580.20" y="193.1" font-size="15.2" font-style="italic" fill="#5d5d5d" textLength="24.89" lengthAdjust="spacingAndGlyphs">295</text>
<text x="712.33" y="193.1" font-size="15.2" font-style="italic" fill="#5d5d5d" textLength="35.98" lengthAdjust="spacingAndGlyphs">3082</text>
<text x="250.94" y="881.0" font-size="15.2" font-style="italic" fill="#5d5d5d" textLength="34.97" lengthAdjust="spacingAndGlyphs">3082</text>
<text x="395.00" y="881.0" font-size="15.2" font-style="italic" fill="#5d5d5d" textLength="23.89" lengthAdjust="spacingAndGlyphs">295</text>
<text x="483.95" y="881.0" font-size="15.2" font-style="italic" fill="#5d5d5d" textLength="30.49" lengthAdjust="spacingAndGlyphs">1996</text>
<text x="581.80" y="881.0" font-size="15.2" font-style="italic" fill="#5d5d5d" textLength="23.29" lengthAdjust="spacingAndGlyphs">295</text>
<text x="712.33" y="881.0" font-size="15.2" font-style="italic" fill="#5d5d5d" textLength="35.98" lengthAdjust="spacingAndGlyphs">3082</text>
<text x="482.09" y="905.3" font-size="15.2" font-style="italic" fill="#5d5d5d" textLength="34.46" lengthAdjust="spacingAndGlyphs">8750</text>
<text x="273.31" y="632.1" font-size="16.6" font-style="italic" fill="#5d5d5d" textLength="47.27" lengthAdjust="spacingAndGlyphs">ОК- 01</text>
<text x="645.93" y="631.8" font-size="16.6" font-style="italic" fill="#5d5d5d" textLength="45.25" lengthAdjust="spacingAndGlyphs">ДБ- 01</text>
<text x="730.71" y="631.8" font-size="16.6" font-style="italic" fill="#5d5d5d" textLength="47.15" lengthAdjust="spacingAndGlyphs">ОК- 02</text>
<text x="252.56" y="329.5" font-size="16.6" font-style="italic" fill="#5d5d5d" textLength="61.97" lengthAdjust="spacingAndGlyphs">Спальня</text>
<text x="253.19" y="350.2" font-size="15.8" font-style="italic" fill="#5d5d5d" textLength="49.16" lengthAdjust="spacingAndGlyphs">7.55  м</text>
<text x="252.47" y="539.6" font-size="16.6" font-style="italic" fill="#5d5d5d" textLength="61.77" lengthAdjust="spacingAndGlyphs">Спальня</text>
<text x="252.86" y="560.4" font-size="15.8" font-style="italic" fill="#5d5d5d" textLength="50.10" lengthAdjust="spacingAndGlyphs">7.55  м</text>
<text x="462.59" y="278.8" font-size="16.6" font-style="italic" fill="#5d5d5d" textLength="74.19" lengthAdjust="spacingAndGlyphs">Сан. узел</text>
<text x="472.00" y="299.2" font-size="15.8" font-style="italic" fill="#5d5d5d" textLength="47.34" lengthAdjust="spacingAndGlyphs">2.13  м</text>
<text x="467.95" y="318.9" font-size="16.6" font-style="italic" fill="#5d5d5d" textLength="46.35" lengthAdjust="spacingAndGlyphs">ДВ- 02</text>
<text x="462.82" y="488.9" font-size="16.6" font-style="italic" fill="#5d5d5d" textLength="73.89" lengthAdjust="spacingAndGlyphs">Прихожая</text>
<text x="469.77" y="509.2" font-size="15.8" font-style="italic" fill="#5d5d5d" textLength="49.08" lengthAdjust="spacingAndGlyphs">6.70  м</text>
<text x="643.99" y="435.3" font-size="16.6" font-style="italic" fill="#5d5d5d" textLength="141.90" lengthAdjust="spacingAndGlyphs">Гостиная /  Кухня</text>
<text x="683.95" y="455.2" font-size="15.8" font-style="italic" fill="#5d5d5d" textLength="53.51" lengthAdjust="spacingAndGlyphs">15.62  м</text>
<text x="478.34" y="678.3" font-size="16.6" font-style="italic" fill="#5d5d5d" textLength="45.87" lengthAdjust="spacingAndGlyphs">ДВ- 01</text>
<text x="472.16" y="696.2" font-size="16.6" font-style="italic" fill="#5d5d5d" textLength="54.54" lengthAdjust="spacingAndGlyphs">Тамбур</text>
<text x="471.00" y="716.2" font-size="15.8" font-style="italic" fill="#5d5d5d" textLength="50.36" lengthAdjust="spacingAndGlyphs">2.43  м</text>
<text x="478.33" y="733.7" font-size="16.6" font-style="italic" fill="#5d5d5d" textLength="46.29" lengthAdjust="spacingAndGlyphs">ДН- 01</text>
<text x="699.60" y="754.2" font-size="16.6" font-style="italic" fill="#5d5d5d" textLength="59.90" lengthAdjust="spacingAndGlyphs">Терраса</text>
<text x="699.05" y="774.6" font-size="15.8" font-style="italic" fill="#5d5d5d" textLength="53.30" lengthAdjust="spacingAndGlyphs">10.94  м</text>
<text x="306.00" y="341.5" font-size="11.0" font-style="italic" fill="#5d5d5d" stroke="#5d5d5d" stroke-width="0.45" textLength="6.12" lengthAdjust="spacingAndGlyphs">2</text>
<text x="306.20" y="552.0" font-size="11.0" font-style="italic" fill="#5d5d5d" stroke="#5d5d5d" stroke-width="0.45" textLength="6.74" lengthAdjust="spacingAndGlyphs">2</text>
<text x="521.00" y="290.9" font-size="11.0" font-style="italic" fill="#5d5d5d" stroke="#5d5d5d" stroke-width="0.45" textLength="5.72" lengthAdjust="spacingAndGlyphs">2</text>
<text x="520.90" y="502.2" font-size="11.0" font-style="italic" fill="#5d5d5d" stroke="#5d5d5d" stroke-width="0.45" textLength="6.84" lengthAdjust="spacingAndGlyphs">2</text>
<text x="740.50" y="449.0" font-size="11.0" font-style="italic" fill="#5d5d5d" stroke="#5d5d5d" stroke-width="0.45" textLength="6.64" lengthAdjust="spacingAndGlyphs">2</text>
<text x="523.00" y="710.2" font-size="11.0" font-style="italic" fill="#5d5d5d" stroke="#5d5d5d" stroke-width="0.45" textLength="6.12" lengthAdjust="spacingAndGlyphs">2</text>
<text x="756.80" y="766.5" font-size="11.0" font-style="italic" fill="#5d5d5d" stroke="#5d5d5d" stroke-width="0.45" textLength="5.92" lengthAdjust="spacingAndGlyphs">2</text>
<text x="-1.51" y="0" font-size="15.2" font-style="italic" fill="#5d5d5d" textLength="25.50" lengthAdjust="spacingAndGlyphs" transform="translate(115.3,266.9) rotate(-90)">793</text>
<text x="-0.44" y="0" font-size="15.2" font-style="italic" fill="#5d5d5d" textLength="29.88" lengthAdjust="spacingAndGlyphs" transform="translate(115.3,352.2) rotate(-90)">1250</text>
<text x="-0.26" y="0" font-size="15.2" font-style="italic" fill="#5d5d5d" textLength="35.31" lengthAdjust="spacingAndGlyphs" transform="translate(115.3,540.0) rotate(-90)">3293</text>
<text x="-0.46" y="0" font-size="15.2" font-style="italic" fill="#5d5d5d" textLength="31.31" lengthAdjust="spacingAndGlyphs" transform="translate(115.3,723.6) rotate(-90)">1250</text>
<text x="-0.45" y="0" font-size="15.2" font-style="italic" fill="#5d5d5d" textLength="30.29" lengthAdjust="spacingAndGlyphs" transform="translate(115.3,825.0) rotate(-90)">1250</text>
<text x="-0.78" y="0" font-size="15.2" font-style="italic" fill="#5d5d5d" textLength="35.03" lengthAdjust="spacingAndGlyphs" transform="translate(91.4,508.0) rotate(-90)">6586</text>
<text x="-1.51" y="0" font-size="15.2" font-style="italic" fill="#5d5d5d" textLength="25.50" lengthAdjust="spacingAndGlyphs" transform="translate(877.0,266.9) rotate(-90)">793</text>
<text x="-0.44" y="0" font-size="15.2" font-style="italic" fill="#5d5d5d" textLength="29.88" lengthAdjust="spacingAndGlyphs" transform="translate(877.0,352.2) rotate(-90)">1250</text>
<text x="-0.26" y="0" font-size="15.2" font-style="italic" fill="#5d5d5d" textLength="35.31" lengthAdjust="spacingAndGlyphs" transform="translate(877.0,540.0) rotate(-90)">3293</text>
<text x="-0.46" y="0" font-size="15.2" font-style="italic" fill="#5d5d5d" textLength="31.31" lengthAdjust="spacingAndGlyphs" transform="translate(877.0,723.6) rotate(-90)">1250</text>
<text x="-0.45" y="0" font-size="15.2" font-style="italic" fill="#5d5d5d" textLength="30.29" lengthAdjust="spacingAndGlyphs" transform="translate(877.0,825.0) rotate(-90)">1250</text>
<text x="-0.78" y="0" font-size="15.2" font-style="italic" fill="#5d5d5d" textLength="35.03" lengthAdjust="spacingAndGlyphs" transform="translate(901.8,508.0) rotate(-90)">6586</text>
<text x="-0.69" y="0" font-size="16.6" font-style="italic" fill="#5d5d5d" textLength="47.38" lengthAdjust="spacingAndGlyphs" transform="translate(180.0,360.0) rotate(-90)">ОК- 01</text>
<text x="-0.69" y="0" font-size="16.6" font-style="italic" fill="#5d5d5d" textLength="46.86" lengthAdjust="spacingAndGlyphs" transform="translate(833.2,360.0) rotate(-90)">ОК- 01</text>
<text x="1.34" y="0" font-size="16.6" font-style="italic" fill="#5d5d5d" textLength="45.96" lengthAdjust="spacingAndGlyphs" transform="translate(447.0,414.4) rotate(-90)">ДВ- 03</text>
<text x="1.35" y="0" font-size="16.6" font-style="italic" fill="#5d5d5d" textLength="46.05" lengthAdjust="spacingAndGlyphs" transform="translate(447.0,511.5) rotate(-90)">ДВ- 03</text>
<text x="1.34" y="0" font-size="16.6" font-style="italic" fill="#5d5d5d" textLength="45.87" lengthAdjust="spacingAndGlyphs" transform="translate(562.2,513.0) rotate(-90)">ДВ- 01</text>
</g>
</svg>
</body></html>
